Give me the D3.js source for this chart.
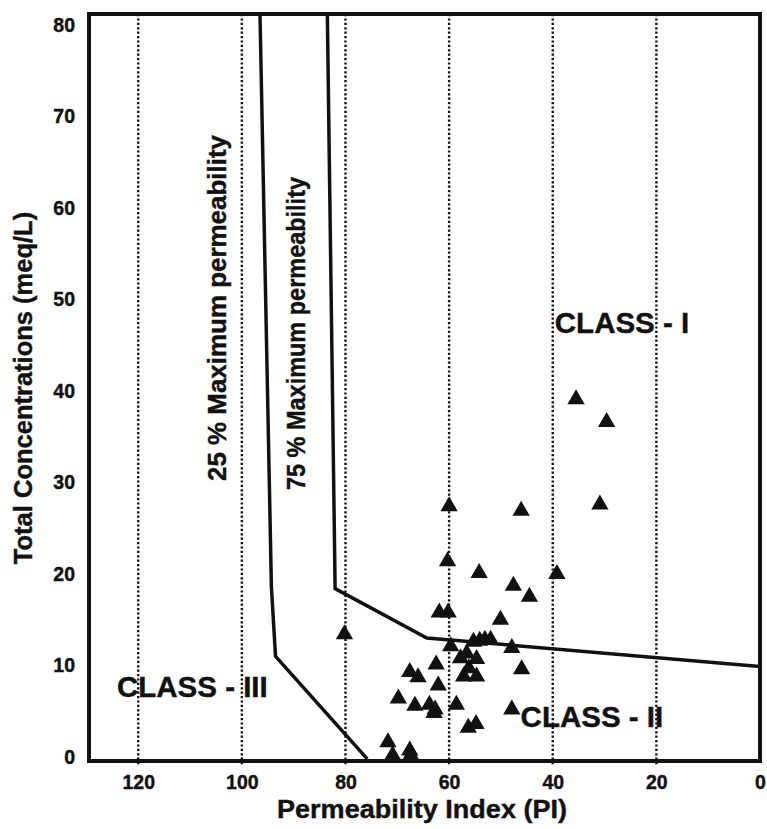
<!doctype html>
<html>
<head>
<meta charset="utf-8">
<script src="https://d3js.org/d3.v7.min.js"></script>
<style>
  body { margin: 0; background: #fff; }
  text { font-family: "Liberation Sans", Arial, sans-serif; font-weight: bold; fill: #111; stroke: #111; stroke-width: 0.4px; }
</style>
</head>
<body>
<svg width="767" height="829"></svg>
<script>
// permeability index (PI) and total concentration (meq/L) of the samples
var samplePI = [35.5, 29.6, 30.9, 46.1, 60.0, 60.3, 54.2, 39.2, 47.6, 44.5,
                61.9, 60.2, 50.1, 80.2, 59.7, 55.3, 54.1, 53.1, 52.0, 47.9,
                57.8, 56.6, 54.7, 57.2, 54.7, 46.0, 62.5, 67.6, 66.0, 62.1,
                69.8, 66.6, 63.8, 62.7, 62.9, 58.6, 47.9, 56.3, 54.8, 71.8,
                70.9, 67.6, 67.4, 56.2];
var sampleTC = [39.1, 36.6, 27.6, 26.9, 27.4, 21.4, 20.1, 20.0, 18.7, 17.5,
                15.8, 15.8, 15.0, 13.4, 12.1, 12.6, 12.7, 12.8, 12.8, 11.9,
                10.8, 11.3, 10.7, 8.8, 8.8, 9.6, 10.1, 9.3, 8.7, 7.8,
                6.4, 5.6, 5.7, 5.2, 4.8, 5.7, 5.2, 3.2, 3.6, 1.6,
                0.2, 0.7, 0.2, 9.7];

// class boundaries
var line25PI = [96.5, 94.3, 93.5, 75.8];
var line25TC = [81.2, 18.6, 11.0, -0.2];
var line75PI = [83.5, 82.0, 64.3, 0];
var line75TC = [81.2, 18.4, 13.0, 9.9];

var xTicks = [120, 100, 80, 60, 40, 20, 0];
var yTicks = [0, 10, 20, 30, 40, 50, 60, 70, 80];
var gridPI = [120, 100, 80, 60, 40, 20];

var svg = d3.select("svg"),
    plotL = 89, plotR = 760, plotT = 14, plotB = 761;

var x = d3.scaleLinear().domain([129.5, 0]).range([plotL, plotR]);
var y = d3.scaleLinear().domain([-0.44, 81.2]).range([plotB, plotT]);

// dotted verticals
svg.selectAll(".grid")
  .data(gridPI)
  .enter().append("line")
  .attr("x1", function(d) { return x(d); })
  .attr("x2", function(d) { return x(d); })
  .attr("y1", plotT)
  .attr("y2", plotB + 5)
  .attr("stroke", "#111")
  .attr("stroke-width", 2.4)
  .attr("stroke-dasharray", "2.2,2.2");

// axes (labels only, frame drawn separately)
svg.append("g")
  .attr("transform", "translate(0," + plotB + ")")
  .call(d3.axisBottom(x).tickValues(xTicks).tickSize(0).tickPadding(14))
  .call(function(g) { g.select(".domain").remove(); })
  .selectAll("text")
  .style("font-size", "19.5px");

svg.append("g")
  .attr("transform", "translate(" + plotL + ",0)")
  .call(d3.axisLeft(y).tickValues(yTicks).tickSize(0).tickPadding(14))
  .call(function(g) { g.select(".domain").remove(); })
  .selectAll("text")
  .style("font-size", "19.5px");

// boundary lines
var boundary = d3.line()
  .x(function(d) { return x(d[0]); })
  .y(function(d) { return y(d[1]); });

[[line25PI, line25TC], [line75PI, line75TC]].forEach(function(l) {
  svg.append("path")
    .datum(d3.zip(l[0], l[1]))
    .attr("d", boundary)
    .attr("fill", "none")
    .attr("stroke", "#111")
    .attr("stroke-width", 3.5)
    .attr("stroke-linejoin", "miter");
});

// samples
svg.selectAll(".pt")
  .data(d3.zip(samplePI, sampleTC))
  .enter().append("path")
  .attr("class", "pt")
  .attr("d", d3.symbol(d3.symbolTriangle).size(130))
  .attr("transform", function(d) { return "translate(" + x(d[0]) + "," + y(d[1]) + ")"; })
  .attr("fill", "#111");

// frame
svg.append("rect")
  .attr("x", plotL).attr("y", plotT)
  .attr("width", plotR - plotL).attr("height", plotB - plotT)
  .attr("fill", "none")
  .attr("stroke", "#111")
  .attr("stroke-width", 4);

// class labels
var classText = ["CLASS - I", "CLASS - II", "CLASS - III"];
var classPI = [39.6, 46.2, 124.1];
var classTC = [46.3, 3.3, 6.6];
svg.selectAll(".cls")
  .data(classText)
  .enter().append("text")
  .attr("x", function(d, i) { return x(classPI[i]); })
  .attr("y", function(d, i) { return y(classTC[i]); })
  .style("font-size", "29.5px")
  .text(function(d) { return d; });

// rotated line labels
svg.append("text")
  .attr("transform", "translate(226,135) rotate(-90)")
  .attr("text-anchor", "end")
  .attr("textLength", 346)
  .attr("lengthAdjust", "spacingAndGlyphs")
  .style("font-size", "25px")
  .text("25 % Maximum permeability");

svg.append("text")
  .attr("transform", "translate(305,177) rotate(-90)")
  .attr("text-anchor", "end")
  .attr("textLength", 313)
  .attr("lengthAdjust", "spacingAndGlyphs")
  .style("font-size", "25px")
  .text("75 % Maximum permeability");

// axis titles
svg.append("text")
  .attr("x", 422).attr("y", 818)
  .attr("text-anchor", "middle")
  .attr("textLength", 290)
  .attr("lengthAdjust", "spacingAndGlyphs")
  .style("font-size", "25px")
  .text("Permeability Index (PI)");

svg.append("text")
  .attr("transform", "translate(32,388) rotate(-90)")
  .attr("text-anchor", "middle")
  .style("font-size", "25.5px")
  .text("Total Concentrations (meq/L)");
</script>
</body>
</html>
